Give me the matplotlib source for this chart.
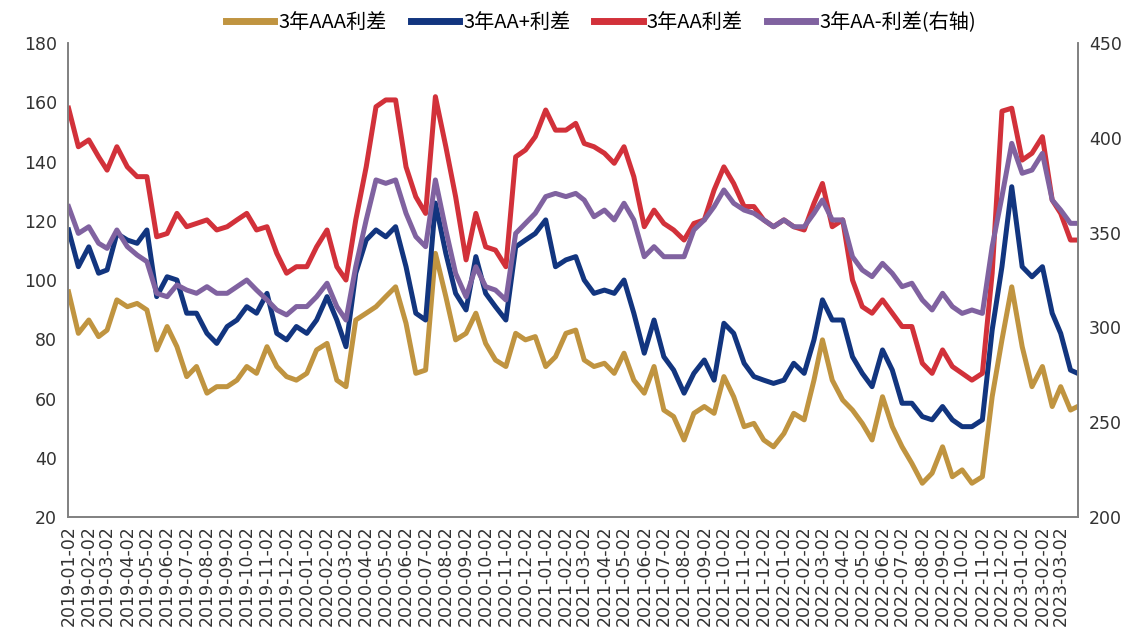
import matplotlib.pyplot as plt
import matplotlib.dates as mdates
import pandas as pd

plt.rcParams['font.family'] = ['Noto Sans CJK SC', 'DejaVu Sans']

# semi-monthly observations (2nd and 17th of each month), last one on 2023-03-28
months = pd.date_range('2019-01-01', '2023-03-01', freq='MS')
dates = []
for m in months:
    dates += [m + pd.Timedelta(days=1), m + pd.Timedelta(days=16)]
dates.append(pd.Timestamp('2023-03-28'))

# 3年AAA利差 (bp)
aaa = [96, 82, 86.5, 80.9, 83.1, 93.3, 91, 92.1, 89.9, 76.4, 84.3, 77.5,
       67.4, 70.8, 61.8, 64, 64, 66.2, 70.8, 68.5, 77.5, 70.8, 67.4, 66.2,
       68.5, 76.4, 78.6, 66.2, 64, 86.5, 88.8, 91, 94.4, 97.7, 85.4, 68.5,
       69.6, 109, 94.4, 79.8, 82, 88.8, 78.6, 73, 70.8, 82, 79.8, 80.9,
       70.8, 74.1, 82, 83.1, 73, 70.8, 71.9, 68.5, 75.3, 66.2, 61.8, 70.8,
       56.1, 53.9, 46, 55, 57.3, 55, 67.4, 60.6, 50.5, 51.6, 46, 43.7,
       48.2, 55, 52.8, 66.2, 79.8, 66.2, 59.5, 56.1, 51.6, 46, 60.6, 50.5,
       43.7, 38.1, 31.4, 34.8, 43.7, 33.6, 35.9, 31.4, 33.6, 60.6, 79.8, 97.7,
       77.5, 64, 70.8, 57.3, 64, 56.1, 57.3]

# 3年AA+利差 (bp)
aa_plus = [116.9, 104.5, 111.2, 102.3, 103.4, 115.7, 113.5, 112.4, 116.9, 94.4, 101.1, 100,
           88.8, 88.8, 82, 78.6, 84.3, 86.5, 91, 88.8, 95.5, 82, 79.8, 84.3,
           82, 86.5, 94.4, 86.5, 77.5, 102.3, 113.5, 116.9, 114.6, 118, 104.5, 88.8,
           86.5, 126, 109, 95.5, 89.9, 107.9, 95.5, 91, 86.5, 111.2, 113.5, 115.7,
           120.3, 104.5, 106.8, 107.9, 100, 95.5, 96.6, 95.5, 100, 88.8, 75.3, 86.5,
           74.1, 69.6, 61.8, 68.5, 73, 66.2, 85.4, 82, 71.9, 67.4, 66.2, 65.1,
           66.2, 71.9, 68.5, 79.8, 93.3, 86.5, 86.5, 74.1, 68.5, 64, 76.4, 69.6,
           58.4, 58.4, 53.9, 52.8, 57.3, 52.8, 50.5, 50.5, 52.8, 83.1, 104.5, 131.5,
           104.5, 101.1, 104.5, 88.8, 82, 69.6, 68.5]

# 3年AA利差 (bp)
aa = [158, 145, 147.3, 141.6, 137.1, 145, 138.2, 134.9, 134.9, 114.6, 115.7, 122.5,
      118, 119.1, 120.3, 116.9, 118, 120.3, 122.5, 116.9, 118, 109, 102.3, 104.5,
      104.5, 111.2, 116.9, 104.5, 100, 120.3, 138.2, 158.5, 160.8, 160.8, 138.2, 128.1,
      122.5, 161.9, 145, 128.1, 106.8, 122.5, 111.2, 110.1, 104.5, 141.6, 143.9, 148.4,
      157.4, 150.6, 150.6, 152.9, 146.1, 145, 142.8, 139.4, 145, 134.9, 118, 123.6,
      119.1, 116.9, 113.5, 119.1, 120.3, 130.4, 138.2, 132.6, 124.8, 124.8, 120.3, 118,
      120.3, 118, 116.9, 125.9, 132.6, 118, 120.3, 100, 91, 88.8, 93.3, 88.8,
      84.3, 84.3, 71.9, 68.5, 76.4, 70.8, 68.5, 66.2, 68.5, 102.3, 157, 158,
      140.5, 142.8, 148.4, 127, 122.5, 113.5, 113.5]

# 3年AA-利差 (bp, right axis)
aa_minus = [363.7, 349.6, 353.1, 344.4, 341.7, 351.4, 342.6, 338.2, 334.7, 318, 316.2, 322.4,
            319.7, 318, 321.5, 318, 318, 321.5, 325, 319.7, 314.5, 309.2, 306.6, 311,
            311, 316.2, 323.3, 311, 303.9, 332.1, 356.7, 377.8, 376, 377.8, 360.2, 347.9,
            342.6, 377.8, 351.4, 328.5, 316.2, 332, 321.5, 319.7, 314.5, 349.6, 354.9, 360.2,
            369, 370.7, 369, 370.7, 367.2, 358.4, 361.9, 356.7, 365.5, 356.7, 337.3, 342.6,
            337.3, 337.3, 337.3, 351.4, 356.7, 363.7, 372.5, 365.5, 361.9, 360.2, 356.7, 353.1,
            356.7, 353.1, 353.1, 360.2, 367.2, 356.7, 356.7, 337.3, 330.3, 326.8, 333.8, 328.5,
            321.5, 323.3, 314.5, 309.2, 318, 311, 307.4, 309.2, 307.4, 342.6, 369, 397.1,
            381.3, 383, 391.8, 367.2, 361.9, 354.9, 354.9]

fig = plt.figure(figsize=(11.32, 6.37), dpi=100)
ax = fig.add_axes([0.060, 0.1884, 0.892, 0.744])
ax2 = ax.twinx()

lw = 3.6
l1, = ax.plot(dates, aaa, color='#C09440', lw=lw, label='3年AAA利差')
l2, = ax.plot(dates, aa_plus, color='#12357F', lw=lw, label='3年AA+利差')
l3, = ax.plot(dates, aa, color='#D2313A', lw=lw, label='3年AA利差')
l4, = ax2.plot(dates, aa_minus, color='#8062A0', lw=lw, label='3年AA-利差(右轴)')

ax.set_ylim(20, 180)
ax.set_yticks(range(20, 181, 20))
ax2.set_ylim(200, 450)
ax2.set_yticks(range(200, 451, 50))

ticks = [m + pd.Timedelta(days=1) for m in months]
ax.set_xlim(pd.Timestamp('2019-01-01'), pd.Timestamp('2023-03-28'))
ax.set_xticks(ticks)
ax.xaxis.set_major_formatter(mdates.DateFormatter('%Y-%m-%d'))
for lbl in ax.get_xticklabels():
    lbl.set_rotation(90)
    lbl.set_family('DejaVu Sans')
    lbl.set_fontsize(12.5)
    lbl.set_color('#333333')

for a in (ax, ax2):
    a.spines['top'].set_visible(False)
    for s in ('left', 'right', 'bottom'):
        a.spines[s].set_color('#808080')
        a.spines[s].set_linewidth(1.2)
    a.tick_params(axis='y', length=0, labelsize=12.5, labelcolor='#333333', pad=8)
ax.tick_params(axis='x', length=0, pad=6)
for lbl in ax.get_yticklabels() + ax2.get_yticklabels():
    lbl.set_family('DejaVu Sans')

leg = fig.legend(handles=[l1, l2, l3, l4], loc='upper center', bbox_to_anchor=(0.531, 1.01),
                 ncol=4, frameon=False, fontsize=14.5, handlelength=2.4, handletextpad=0.2,
                 columnspacing=1.2)
for h in leg.legend_handles:
    h.set_linewidth(5)

fig.savefig('out.png', dpi=100)
